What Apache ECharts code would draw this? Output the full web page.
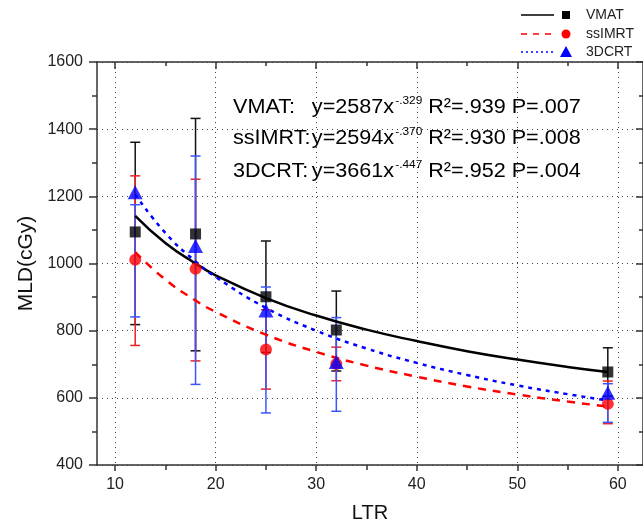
<!DOCTYPE html>
<html>
<head>
<meta charset="utf-8">
<script src="https://cdn.jsdelivr.net/npm/echarts@6/dist/echarts.min.js"></script>
<style>
html,body{margin:0;padding:0;background:#fff;}
#c{width:643px;height:528px;}
</style>
</head>
<body>
<div id="c"></div>
<script>
// ---- data ----
const seriesNames = ['VMAT', 'ssIMRT', '3DCRT'];
const ltr = [12, 18, 25, 32, 59];
const vmatMean = [1094, 1088, 901, 802, 677];
const ssimrtMean = [1011, 984, 744, 701, 582];
const dcrtMean = [1212, 1052, 860, 707, 615];
const vmatLow = [818, 740, 735, 680, 605];
const vmatHigh = [1361, 1432, 1067, 918, 749];
const ssimrtLow = [756, 710, 626, 651, 523];
const ssimrtHigh = [1261, 1251, 862, 751, 650];
const dcrtLow = [841, 640, 555, 560, 527];
const dcrtHigh = [1175, 1320, 930, 839, 642];
// fitted curves as drawn
const fitX = [12, 15, 18, 20, 25, 30, 35, 40, 45, 50, 55, 59];
const vmatFit = [1142, 1061, 1000, 965, 897, 845, 803, 769, 739, 714, 692, 677];
const ssimrtFit = [1034, 952, 890, 856, 788, 737, 696, 663, 634, 610, 589, 574];
const dcrtFit = [1206, 1091, 1006, 960, 868, 800, 747, 704, 668, 637, 611, 592];
// axis ticks
const xMajorTicks = [10, 20, 30, 40, 50, 60];
const xMinorTicks = [15, 25, 35, 45, 55];
// annotation texts
const fitLabels = ['VMAT:', 'ssIMRT:', '3DCRT:'];
const fitEq = ['y=2587x', 'y=2594x', 'y=3661x'];
const fitExp = ['-.329', '-.370', '-.447'];
const fitStats = [' R\u00B2=.939 P=.007', ' R\u00B2=.930 P=.008', ' R\u00B2=.952 P=.004'];

const FONT = "'Liberation Sans', Arial, sans-serif";
const colors = ['#000000', '#ff0000', '#0000ff'];
const barColors = ['#111111', '#ee2020', '#3a55ff'];

function zip(a, b) { return a.map((v, i) => [v, b[i]]); }
function zip3(a, b, c) { return a.map((v, i) => [v, b[i], c[i]]); }

function errRender(color) {
  return function (params, api) {
    const x = api.value(0), lo = api.value(1), hi = api.value(2);
    const p1 = api.coord([x, lo]), p2 = api.coord([x, hi]);
    const w = 5;
    const st = { stroke: color, lineWidth: 1.5 };
    return {
      type: 'group',
      children: [
        { type: 'line', shape: { x1: p1[0], y1: p1[1], x2: p2[0], y2: p2[1] }, style: st },
        { type: 'line', shape: { x1: p1[0] - w, y1: p1[1], x2: p1[0] + w, y2: p1[1] }, style: st },
        { type: 'line', shape: { x1: p2[0] - w, y1: p2[1], x2: p2[0] + w, y2: p2[1] }, style: st }
      ]
    };
  };
}

const axisLineStyle = { color: '#333', width: 1.5 };
const gridLineStyle = { color: '#444', type: [1, 4], width: 1 };

const xBase = { type: 'value', min: 8.2, max: 62.5, gridIndex: 0 };

const option = {
  animation: false,
  backgroundColor: '#fff',
  grid: { left: 97, right: 0, top: 62, bottom: 59 },
  xAxis: [
    Object.assign({}, xBase, {
      position: 'bottom',
      axisLine: { show: true, lineStyle: axisLineStyle },
      axisTick: { show: true, inside: false, length: 6, customValues: xMajorTicks, lineStyle: axisLineStyle },
      axisLabel: { show: true, customValues: xMajorTicks, fontSize: 16, color: '#222', fontFamily: FONT, margin: 12 },
      splitLine: { show: true, lineStyle: gridLineStyle },
      name: 'LTR', nameLocation: 'middle', nameGap: 38,
      nameTextStyle: { fontSize: 20, color: '#111', fontFamily: FONT }
    }),
    Object.assign({}, xBase, {
      position: 'bottom',
      axisLine: { show: false },
      axisTick: { show: true, inside: false, length: 5, customValues: xMinorTicks, lineStyle: axisLineStyle },
      axisLabel: { show: false },
      splitLine: { show: false }
    }),
    Object.assign({}, xBase, {
      position: 'top',
      axisLine: { show: true, lineStyle: axisLineStyle },
      axisTick: { show: true, inside: true, length: 7, customValues: xMajorTicks, lineStyle: axisLineStyle },
      axisLabel: { show: false },
      splitLine: { show: false }
    }),
    Object.assign({}, xBase, {
      position: 'top',
      axisLine: { show: false },
      axisTick: { show: true, inside: true, length: 4, customValues: xMinorTicks, lineStyle: axisLineStyle },
      axisLabel: { show: false },
      splitLine: { show: false }
    })
  ],
  yAxis: [
    {
      type: 'value', min: 400, max: 1600, interval: 200, position: 'left',
      axisLine: { show: true, lineStyle: axisLineStyle },
      axisTick: { show: true, inside: false, length: 8, lineStyle: axisLineStyle },
      minorTick: { show: true, splitNumber: 2, length: 5, lineStyle: axisLineStyle },
      axisLabel: { fontSize: 16, color: '#222', fontFamily: FONT, margin: 14, formatter: v => String(v) },
      splitLine: { show: true, lineStyle: gridLineStyle },
      name: 'MLD(cGy)', nameLocation: 'middle', nameGap: 56,
      nameTextStyle: { fontSize: 21, color: '#111', fontFamily: FONT }
    },
    {
      type: 'value', min: 400, max: 1600, interval: 200, position: 'right',
      axisLine: { show: true, lineStyle: axisLineStyle },
      axisTick: { show: true, inside: true, length: 7, lineStyle: axisLineStyle },
      minorTick: { show: true, splitNumber: 2, length: 4, lineStyle: axisLineStyle },
      axisLabel: { show: false },
      splitLine: { show: false }
    }
  ],
  series: [
    { type: 'custom', name: seriesNames[0] + ' sd', renderItem: errRender(barColors[0]), data: zip3(ltr, vmatLow, vmatHigh), encode: { x: 0, y: [1, 2] }, z: 1 },
    { type: 'custom', name: seriesNames[1] + ' sd', renderItem: errRender(barColors[1]), data: zip3(ltr, ssimrtLow, ssimrtHigh), encode: { x: 0, y: [1, 2] }, z: 1 },
    { type: 'custom', name: seriesNames[2] + ' sd', renderItem: errRender(barColors[2]), data: zip3(ltr, dcrtLow, dcrtHigh), encode: { x: 0, y: [1, 2] }, z: 1 },
    { type: 'line', name: seriesNames[0] + ' fit', data: zip(fitX, vmatFit), smooth: true, showSymbol: false, lineStyle: { color: colors[0], width: 2.5, type: 'solid' }, z: 2 },
    { type: 'line', name: seriesNames[1] + ' fit', data: zip(fitX, ssimrtFit), smooth: true, showSymbol: false, lineStyle: { color: colors[1], width: 2.5, type: [8, 7] }, z: 2 },
    { type: 'line', name: seriesNames[2] + ' fit', data: zip(fitX, dcrtFit), smooth: true, showSymbol: false, lineStyle: { color: colors[2], width: 2.5, type: [4, 5] }, z: 2 },
    { type: 'scatter', name: seriesNames[0], data: zip(ltr, vmatMean), symbol: 'rect', symbolSize: 11, itemStyle: { color: colors[0] }, z: 3 },
    { type: 'scatter', name: seriesNames[1], data: zip(ltr, ssimrtMean), symbol: 'circle', symbolSize: 12, itemStyle: { color: colors[1] }, z: 3 },
    { type: 'scatter', name: seriesNames[2], data: zip(ltr, dcrtMean), symbol: 'triangle', symbolSize: [15, 14], itemStyle: { color: colors[2] }, z: 4 }
  ],
  graphic: []
};

// legend (top right): line sample, marker, name
const legendY = [15, 34, 52];
const legendDash = [null, [6, 6], [2, 3]];
seriesNames.forEach((n, i) => {
  option.graphic.push({
    type: 'line', shape: { x1: 521, y1: legendY[i], x2: 554, y2: legendY[i] },
    style: { stroke: colors[i], lineWidth: 1.5, lineDash: legendDash[i] }, z: 10
  });
  if (i === 0) {
    option.graphic.push({ type: 'rect', shape: { x: 562, y: legendY[i] - 4, width: 8, height: 8 }, style: { fill: colors[i] }, z: 10 });
  } else if (i === 1) {
    option.graphic.push({ type: 'circle', shape: { cx: 566, cy: legendY[i], r: 4.5 }, style: { fill: colors[i] }, z: 10 });
  } else {
    option.graphic.push({ type: 'polygon', shape: { points: [[566, legendY[i] - 6], [560, legendY[i] + 5], [572, legendY[i] + 5]] }, style: { fill: colors[i] }, z: 10 });
  }
  option.graphic.push({
    type: 'text', x: 586, y: legendY[i],
    style: { text: n, fontSize: 14, fontFamily: FONT, fill: '#222', verticalAlign: 'middle', align: 'left' }, z: 10
  });
});

// fit annotations
const annY = [105, 136, 169];
fitLabels.forEach((lab, i) => {
  option.graphic.push({
    type: 'text', x: 233, y: annY[i], scaleX: 1.08, scaleY: 1,
    style: {
      text: '{a|' + lab + '}{b|' + fitEq[i] + '}{s|' + fitExp[i] + '}{b|' + fitStats[i] + '}',
      verticalAlign: 'middle', align: 'left',
      rich: {
        a: { fontSize: 20, fontFamily: FONT, fill: '#000', width: 73, lineHeight: 24, verticalAlign: 'bottom' },
        b: { fontSize: 20, fontFamily: FONT, fill: '#000', lineHeight: 24, verticalAlign: 'bottom' },
        s: { fontSize: 11, fontFamily: FONT, fill: '#000', lineHeight: 24, verticalAlign: 'top', padding: [2, 0, 0, 1] }
      }
    },
    z: 10
  });
});

const chart = echarts.init(document.getElementById('c'), null, { renderer: 'canvas' });
chart.setOption(option);
</script>
</body>
</html>
